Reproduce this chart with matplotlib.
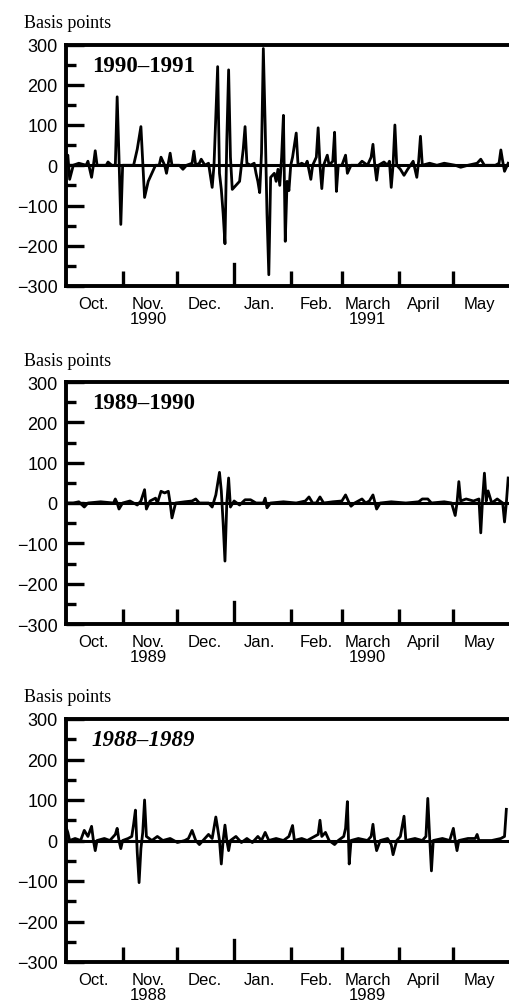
import matplotlib
matplotlib.use("Agg")
import numpy as np
import datetime as dt
from matplotlib import pyplot as plt

# ---- data: daily spread changes, basis points ----
dates_1990 = ["1990-10-01", "1990-10-02", "1990-10-03", "1990-10-05", "1990-10-08", "1990-10-12",
              "1990-10-13", "1990-10-15", "1990-10-16", "1990-10-17", "1990-10-18", "1990-10-23",
              "1990-10-24", "1990-10-26", "1990-10-28", "1990-10-29", "1990-10-30", "1990-10-31",
              "1990-11-01", "1990-11-07", "1990-11-09", "1990-11-11", "1990-11-12", "1990-11-13",
              "1990-11-15", "1990-11-17", "1990-11-19", "1990-11-21", "1990-11-22", "1990-11-24",
              "1990-11-25", "1990-11-27", "1990-11-28", "1990-12-02", "1990-12-04", "1990-12-06",
              "1990-12-09", "1990-12-10", "1990-12-11", "1990-12-13", "1990-12-14", "1990-12-16",
              "1990-12-18", "1990-12-20", "1990-12-21", "1990-12-22", "1990-12-23", "1990-12-24",
              "1990-12-25", "1990-12-26", "1990-12-27", "1990-12-28", "1990-12-29", "1990-12-30",
              "1990-12-31", "1991-01-02", "1991-01-04", "1991-01-05", "1991-01-06", "1991-01-07",
              "1991-01-08", "1991-01-10", "1991-01-12", "1991-01-13", "1991-01-14", "1991-01-15",
              "1991-01-16", "1991-01-17", "1991-01-18", "1991-01-19", "1991-01-20", "1991-01-21",
              "1991-01-23", "1991-01-24", "1991-01-25", "1991-01-26", "1991-01-27", "1991-01-28",
              "1991-01-29", "1991-01-30", "1991-01-31", "1991-02-01", "1991-02-02", "1991-02-04",
              "1991-02-05", "1991-02-07", "1991-02-09", "1991-02-10", "1991-02-12", "1991-02-13",
              "1991-02-15", "1991-02-16", "1991-02-17", "1991-02-18", "1991-02-19", "1991-02-21",
              "1991-02-22", "1991-02-24", "1991-02-25", "1991-02-26", "1991-02-27", "1991-03-01",
              "1991-03-03", "1991-03-04", "1991-03-06", "1991-03-10", "1991-03-12", "1991-03-15",
              "1991-03-17", "1991-03-18", "1991-03-19", "1991-03-20", "1991-03-21", "1991-03-24",
              "1991-03-26", "1991-03-27", "1991-03-28", "1991-03-29", "1991-03-30", "1991-03-31",
              "1991-04-02", "1991-04-04", "1991-04-06", "1991-04-09", "1991-04-11", "1991-04-12",
              "1991-04-13", "1991-04-14", "1991-04-18", "1991-04-22", "1991-04-26", "1991-05-02",
              "1991-05-05", "1991-05-09", "1991-05-14", "1991-05-16", "1991-05-18", "1991-05-24",
              "1991-05-26", "1991-05-27", "1991-05-28", "1991-05-29", "1991-05-31"]
bp_1990 = [10, 25, -35, 0, 5, 0,
           10, -30, 0, 36, 0, 0,
           8, 0, 0, 170, 20, -147,
           0, 0, 40, 96, 10, -80,
           -40, -20, 0, 0, 20, 0,
           -20, 30, 0, 0, -10, 0,
           5, 35, 0, 5, 15, 0,
           5, -55, 0, 120, 245, -20,
           -60, -120, -195, 60, 237, 20,
           -60, -50, -40, 0, 40, 96,
           5, 0, 5, -20, -40, -68,
           30, 290, 100, -120, -272, -30,
           -20, -40, -10, -50, 20, 124,
           -189, -40, -63, 0, 20, 80,
           0, 5, 0, 10, -35, 0,
           20, 93, 0, -58, 0, 25,
           0, 10, 82, -65, 0, 0,
           25, -20, 0, 0, 10, 0,
           20, 52, 0, -37, 0, 8,
           0, 10, -55, 0, 100, 0,
           -10, -25, -10, 10, -30, 10,
           72, 0, 5, 0, 5, 0,
           -5, 0, 5, 15, 0, 0,
           5, 38, 10, -15, 5]

dates_1989 = ["1989-10-01", "1989-10-05", "1989-10-08", "1989-10-11", "1989-10-13", "1989-10-20",
              "1989-10-27", "1989-10-28", "1989-10-29", "1989-10-30", "1989-11-01", "1989-11-05",
              "1989-11-09", "1989-11-11", "1989-11-13", "1989-11-14", "1989-11-16", "1989-11-19",
              "1989-11-20", "1989-11-22", "1989-11-24", "1989-11-26", "1989-11-27", "1989-11-28",
              "1989-11-30", "1989-12-05", "1989-12-09", "1989-12-11", "1989-12-13", "1989-12-18",
              "1989-12-20", "1989-12-22", "1989-12-24", "1989-12-25", "1989-12-26", "1989-12-27",
              "1989-12-28", "1989-12-29", "1989-12-30", "1990-01-01", "1990-01-04", "1990-01-07",
              "1990-01-10", "1990-01-13", "1990-01-17", "1990-01-18", "1990-01-19", "1990-01-21",
              "1990-01-28", "1990-02-04", "1990-02-09", "1990-02-11", "1990-02-13", "1990-02-15",
              "1990-02-17", "1990-02-19", "1990-02-24", "1990-03-01", "1990-03-03", "1990-03-05",
              "1990-03-06", "1990-03-08", "1990-03-12", "1990-03-14", "1990-03-16", "1990-03-18",
              "1990-03-20", "1990-03-22", "1990-03-28", "1990-04-05", "1990-04-12", "1990-04-14",
              "1990-04-17", "1990-04-19", "1990-04-26", "1990-04-30", "1990-05-02", "1990-05-03",
              "1990-05-04", "1990-05-05", "1990-05-08", "1990-05-12", "1990-05-15", "1990-05-16",
              "1990-05-17", "1990-05-18", "1990-05-19", "1990-05-20", "1990-05-22", "1990-05-25",
              "1990-05-28", "1990-05-29", "1990-05-30", "1990-05-31"]
bp_1989 = [0, 0, 3, -10, 0, 3,
           0, 10, 0, -15, 0, 5,
           -5, 5, 33, -15, 5, 12,
           0, 29, 25, 29, 0, -37,
           0, 3, 5, 10, 0, 0,
           -10, 20, 76, 30, -50, -144,
           0, 62, -10, 5, -5, 8,
           8, 0, 0, 12, -12, 0,
           3, 0, 5, 15, 0, 0,
           15, 0, 3, 5, 20, 0,
           -8, 0, 10, 0, 5, 20,
           -15, 0, 3, 0, 3, 10,
           10, 0, 3, 0, -31, 0,
           53, 5, 10, 5, 10, -74,
           10, 74, 5, 30, 0, 10,
           0, -47, 0, 62]

dates_1988 = ["1988-10-01", "1988-10-02", "1988-10-03", "1988-10-06", "1988-10-09", "1988-10-11",
              "1988-10-13", "1988-10-15", "1988-10-16", "1988-10-17", "1988-10-18", "1988-10-22",
              "1988-10-25", "1988-10-28", "1988-10-29", "1988-10-30", "1988-10-31", "1988-11-01",
              "1988-11-04", "1988-11-06", "1988-11-07", "1988-11-08", "1988-11-09", "1988-11-10",
              "1988-11-11", "1988-11-12", "1988-11-13", "1988-11-14", "1988-11-17", "1988-11-20",
              "1988-11-23", "1988-11-27", "1988-12-01", "1988-12-05", "1988-12-07", "1988-12-09",
              "1988-12-11", "1988-12-13", "1988-12-15", "1988-12-18", "1988-12-20", "1988-12-22",
              "1988-12-23", "1988-12-24", "1988-12-25", "1988-12-26", "1988-12-27", "1988-12-28",
              "1988-12-29", "1988-12-30", "1989-01-02", "1989-01-05", "1989-01-08", "1989-01-11",
              "1989-01-14", "1989-01-16", "1989-01-18", "1989-01-20", "1989-01-24", "1989-01-28",
              "1989-01-31", "1989-02-02", "1989-02-03", "1989-02-07", "1989-02-10", "1989-02-14",
              "1989-02-16", "1989-02-17", "1989-02-18", "1989-02-20", "1989-02-22", "1989-02-25",
              "1989-02-27", "1989-03-02", "1989-03-03", "1989-03-04", "1989-03-05", "1989-03-06",
              "1989-03-10", "1989-03-15", "1989-03-17", "1989-03-18", "1989-03-19", "1989-03-20",
              "1989-03-22", "1989-03-26", "1989-03-28", "1989-03-29", "1989-03-31", "1989-04-02",
              "1989-04-04", "1989-04-05", "1989-04-10", "1989-04-14", "1989-04-16", "1989-04-17",
              "1989-04-18", "1989-04-19", "1989-04-20", "1989-04-25", "1989-04-29", "1989-05-01",
              "1989-05-02", "1989-05-03", "1989-05-04", "1989-05-09", "1989-05-13", "1989-05-14",
              "1989-05-15", "1989-05-22", "1989-05-27", "1989-05-29", "1989-05-30"]
bp_1988 = [33, 20, 0, 5, 0, 25,
           10, 35, 0, -25, 0, 5,
           0, 15, 30, 0, -20, 0,
           5, 10, 40, 75, -30, -104,
           -20, 20, 100, 10, 0, 10,
           0, 5, -5, 0, 5, 25,
           0, -10, 0, 15, 5, 58,
           30, 0, -58, 0, 38, 0,
           -25, 0, 10, -5, 5, -5,
           10, 0, 20, 0, 5, 0,
           10, 37, 0, 5, 0, 10,
           15, 50, 10, 20, 0, -10,
           0, 10, 30, 96, -58, 0,
           5, 0, 10, 40, 0, -25,
           0, 5, -10, -35, 0, 10,
           60, 0, 5, 0, 10, 104,
           10, -75, 0, 5, 0, 30,
           0, -25, 0, 5, 5, 15,
           0, 0, 5, 10, 77]

panel_years = [1990, 1989, 1988]
panel_titles = ["1990\u20131991", "1989\u20131990", "1988\u20131989"]
panel_dates = [dates_1990, dates_1989, dates_1988]
panel_values = [bp_1990, bp_1989, bp_1988]
month_names = ["Oct.", "Nov.", "Dec.", "Jan.", "Feb.", "March", "April", "May"]
y_ticks = [-300, -200, -100, 0, 100, 200, 300]
y_labels = ["\u2212300", "\u2212200", "\u2212100", "0", "100", "200", "300"]

# panel placement in pixels (top, bottom) of a 510x1004 figure
W, H = 510.0, 1004.0
LEFT = 66.0
panel_px = [(45.5, 287), (383, 625), (720, 963)]

sans = "Liberation Sans"
serif = "Liberation Serif"

fig = plt.figure(figsize=(W / 100, H / 100), dpi=100)

for i in range(3):
    y0 = panel_years[i]
    top, bot = panel_px[i]
    ax = fig.add_axes([LEFT / W, (H - bot) / H, (W - LEFT) / W, (bot - top) / H])

    x = np.array(panel_dates[i], dtype="datetime64[D]")
    ax.axhline(0, color="black", lw=2.2, zorder=1)
    ax.plot(x, panel_values[i], color="black", lw=2.0)

    ax.set_xlim(dt.date(y0, 10, 1), dt.date(y0 + 1, 6, 1))
    ax.set_ylim(-300, 300)

    # month boundaries as inward ticks, month names centred in between
    bounds = [dt.date(y0, 11, 1), dt.date(y0, 12, 1)] + \
             [dt.date(y0 + 1, m, 1) for m in range(2, 6)]
    ax.set_xticks(bounds)
    ax.set_xticklabels([])
    mids = [dt.date(y0, 10, 16), dt.date(y0, 11, 15), dt.date(y0, 12, 16)] + \
           [dt.date(y0 + 1, m, 15) for m in range(1, 6)]
    labels = list(month_names)
    labels[1] = "Nov.\n%d" % y0
    labels[5] = "March\n%d" % (y0 + 1)
    ax.set_xticks(mids, minor=True)
    ax.set_xticklabels(labels, minor=True, fontfamily=sans, fontsize=12, linespacing=1.05)
    ax.tick_params(axis="x", which="major", direction="in", length=11, width=2.4)
    ax.tick_params(axis="x", which="minor", length=0, pad=7)
    # year boundary gets a longer tick
    ax.axvline(dt.date(y0 + 1, 1, 1), ymin=0, ymax=22 / (bot - top), color="black", lw=2.4)

    ax.set_yticks(y_ticks)
    ax.set_yticklabels(y_labels, fontfamily=sans, fontsize=13)
    ax.set_yticks([-250, -150, -50, 50, 150, 250], minor=True)
    ax.tick_params(axis="y", which="major", direction="in", length=13, width=2.4, pad=6)
    ax.tick_params(axis="y", which="minor", direction="in", length=7, width=2.4)

    for s in ["left", "bottom", "top"]:
        ax.spines[s].set_linewidth(2.8)
    ax.spines["right"].set_visible(False)

    ax.text(0.058, 0.957, panel_titles[i], transform=ax.transAxes, va="top", ha="left",
            fontfamily=serif, fontsize=16.5, fontweight="bold",
            fontstyle="italic" if i == 2 else "normal")
    ax.text(-42 / (W - LEFT), 1 + 17.5 / (bot - top), "Basis points", transform=ax.transAxes,
            va="baseline", ha="left", fontfamily=serif, fontsize=13)

plt.savefig("out.png", dpi=100)
